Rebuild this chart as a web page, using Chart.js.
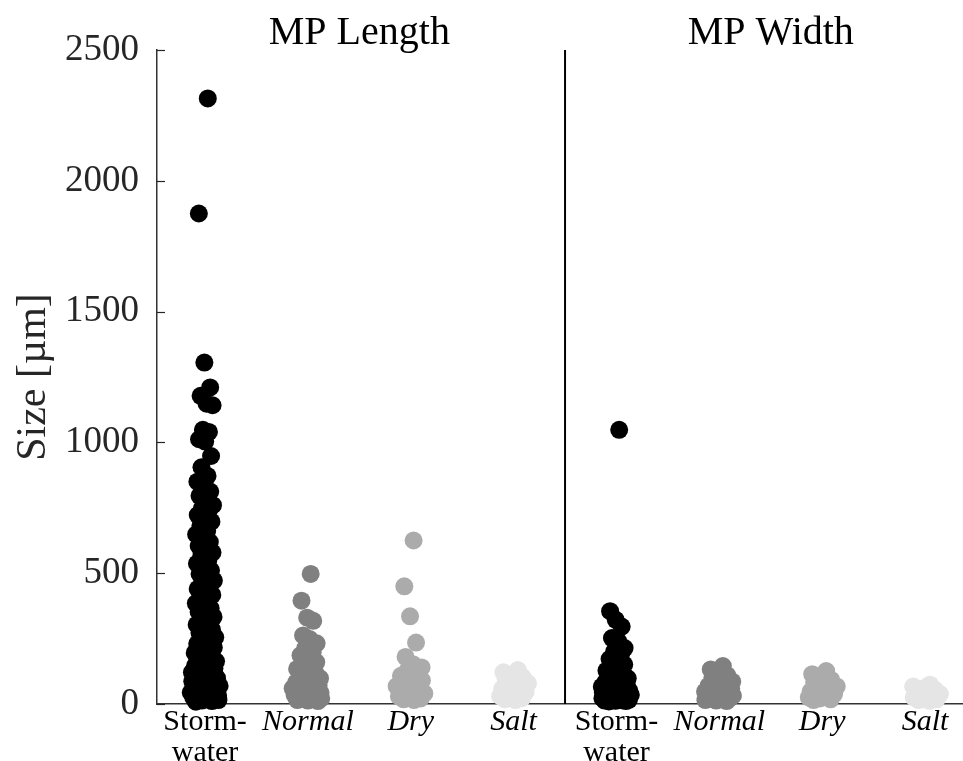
<!DOCTYPE html>
<html>
<head>
<meta charset="utf-8">
<script src="https://cdn.jsdelivr.net/npm/chart.js@4/dist/chart.umd.min.js"></script>
<style>
  html, body { margin: 0; padding: 0; background: #fff; }
  #wrap { width: 963px; height: 761px; }
</style>
</head>
<body>
<div id="wrap"><canvas id="c" width="963" height="761"></canvas></div>
<script>
// ---- data (µm) ----
const categories = ['Storm-water', 'Normal', 'Dry', 'Salt'];
const panelTitles = ['MP Length', 'MP Width'];
const yTicks = [0, 500, 1000, 1500, 2000, 2500];
const colors = ['#000000', '#808080', '#ababab', '#e5e5e5'];

const stormLength = [2315, 1875, 1305, 1210, 1178, 1148, 1142, 1048, 1040, 1012, 1003, 948, 905, 872, 850, 828, 812, 796, 781, 760, 748, 739, 722, 708, 697, 681, 662, 648, 633, 619, 604, 596, 579, 565, 548, 537, 522, 510, 497, 486, 472, 463, 451, 440, 428, 417, 405, 398, 385, 377, 366, 352, 344, 333, 321, 312, 303, 291, 284, 272, 266, 255, 247, 239, 230, 224, 216, 209, 201, 195, 188, 181, 176, 170, 163, 157, 152, 146, 141, 136, 131, 126, 121, 117, 112, 108, 103, 99, 95, 91, 87, 83, 79, 76, 72, 69, 66, 62, 59, 56, 53, 50, 47, 44, 42, 39, 37, 34, 32, 29, 27, 25, 23, 21, 19, 17, 15, 13, 11, 9];
const normalLength = [497, 395, 330, 318, 262, 248, 232, 214, 198, 186, 172, 160, 151, 142, 134, 126, 118, 111, 104, 98, 92, 87, 82, 77, 72, 68, 64, 60, 56, 52, 49, 46, 43, 40, 37, 34, 31, 29, 26, 24, 21, 19, 17, 15, 13, 11];
const dryLength = [625, 450, 335, 235, 180, 152, 140, 128, 118, 108, 99, 90, 82, 75, 68, 62, 56, 51, 46, 41, 37, 33, 29, 25, 21, 18, 15];
const saltLength = [130, 121, 112, 103, 95, 87, 79, 72, 65, 58, 52, 46, 40, 35, 30, 26, 22, 18, 15];

const stormWidth = [1048, 355, 322, 296, 252, 240, 214, 200, 186, 172, 160, 151, 143, 135, 128, 121, 115, 109, 103, 98, 93, 88, 84, 80, 76, 72, 69, 66, 63, 60, 57, 54, 52, 49, 47, 45, 43, 41, 39, 37, 35, 33, 31, 30, 28, 27, 25, 24, 22, 21, 20, 18, 17, 16, 15, 14, 13, 12, 11, 10];
const normalWidth = [145, 132, 120, 110, 101, 93, 86, 80, 74, 69, 64, 59, 55, 51, 47, 44, 41, 38, 35, 32, 30, 27, 25, 23, 21, 19, 17, 15, 13, 11];
const dryWidth = [126, 114, 102, 92, 83, 75, 67, 60, 54, 48, 43, 38, 33, 29, 25, 21, 18, 15];
const saltWidth = [74, 67, 60, 54, 48, 43, 38, 33, 29, 25, 21, 18, 15, 12];

const groups = [
  stormLength, normalLength, dryLength, saltLength,
  stormWidth, normalWidth, dryWidth, saltWidth
];

// ---- swarm-style jitter: deterministic, scaled by local density ----
function swarm(values, center) {
  const h = 40; // kernel bandwidth in µm
  const dens = values.map(v => values.reduce((s, w) => s + Math.exp(-0.5 * ((v - w) / h) ** 2), 0));
  const dmax = Math.max(...dens);
  return values.map((v, i) => {
    const s = 1 - ((i * 0.6180339887 + 0.31) % 1) * 2;
    return { x: center + 0.15 * (0.45 + 0.55 * dens[i] / dmax) * s, y: v };
  });
}

const FONT = "'Liberation Serif', 'Times New Roman', serif";
const datasets = groups.map((vals, gi) => ({
  data: swarm(vals, gi + 1),
  backgroundColor: colors[gi % 4],
  borderColor: colors[gi % 4],
  borderWidth: 0,
  pointRadius: 9,
  pointHoverRadius: 9,
  clip: false
}));
// separator between the two panels
datasets.push({
  type: 'line',
  data: [{ x: 4.5, y: 0 }, { x: 4.5, y: 2500 }],
  borderColor: '#000',
  borderWidth: 2,
  pointRadius: 0,
  showLine: true,
  clip: false
});

const extras = {
  id: 'extras',
  afterDraw(chart) {
    const { ctx, scales: { x, y } } = chart;
    ctx.save();
    // inward y ticks
    ctx.strokeStyle = '#262626';
    ctx.lineWidth = 1.2;
    yTicks.forEach(t => {
      const py = Math.round(y.getPixelForValue(t)) + 0.5;
      ctx.beginPath();
      ctx.moveTo(x.left, py);
      ctx.lineTo(x.left + 8, py);
      ctx.stroke();
    });
    // panel titles
    ctx.fillStyle = '#000';
    ctx.font = '40px ' + FONT;
    ctx.textAlign = 'center';
    ctx.textBaseline = 'alphabetic';
    ctx.fillText(panelTitles[0], x.getPixelForValue(2.5), 44);
    ctx.fillText(panelTitles[1], x.getPixelForValue(6.5), 44);
    ctx.restore();
  }
};

new Chart(document.getElementById('c'), {
  type: 'scatter',
  data: { datasets },
  plugins: [extras],
  options: {
    responsive: false,
    animation: false,
    events: [],
    layout: { autoPadding: false, padding: { top: 50, right: 0, left: 0, bottom: 0 } },
    plugins: { legend: { display: false }, tooltip: { enabled: false } },
    scales: {
      x: {
        type: 'linear',
        min: 0.533,
        max: 8.369,
        afterFit: s => { s.height = 57; },
        afterBuildTicks: axis => { axis.ticks = [1, 2, 3, 4, 5, 6, 7, 8].map(v => ({ value: v })); },
        grid: { display: false, drawTicks: false },
        border: { display: true, color: '#333', width: 1.5 },
        ticks: {
          autoSkip: false,
          maxRotation: 0,
          padding: 2,
          color: '#000',
          font: ctx => ({ family: FONT, size: 30, lineHeight: 1.05, style: (ctx.index % 4 === 0) ? 'normal' : 'italic' }),
          callback: v => {
            const c = categories[(Math.round(v) - 1) % 4];
            return c === 'Storm-water' ? ['Storm-', 'water'] : c;
          }
        }
      },
      y: {
        min: 0,
        max: 2500,
        afterFit: s => { s.width = 157; },
        afterBuildTicks: axis => { axis.ticks = yTicks.map(v => ({ value: v })); },
        grid: { display: false, drawTicks: false },
        border: { display: true, color: '#333', width: 1.5 },
        ticks: { padding: 18, color: '#262626', font: { family: FONT, size: 37 }, callback: v => String(v) },
        title: {
          display: true,
          text: 'Size [µm]',
          color: '#262626',
          font: { family: FONT, size: 42 },
          padding: { top: 9, bottom: 0 }
        }
      }
    }
  }
});
</script>
</body>
</html>
